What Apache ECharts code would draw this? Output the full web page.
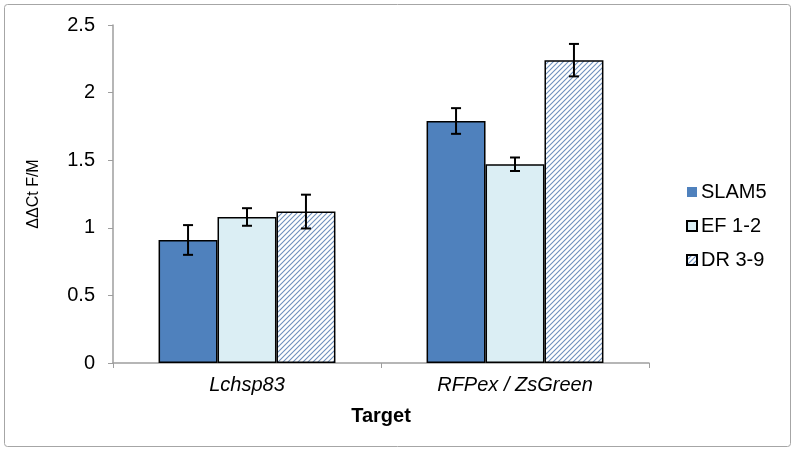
<!DOCTYPE html>
<html><head><meta charset="utf-8">
<script src="https://cdn.jsdelivr.net/npm/echarts@6/dist/echarts.min.js"></script>
<style>html,body{margin:0;padding:0;background:#fff}#c{width:795px;height:451px}</style>
</head><body><div id="c"></div>
<script>
var categories = ['Lchsp83', 'RFPex / ZsGreen'];
var seriesNames = ['SLAM5', 'EF 1-2', 'DR 3-9'];
var slam5 = [0.91, 1.79];
var ef12 = [1.08, 1.47];
var dr39 = [1.12, 2.24];
var slam5Err = [0.11, 0.095];
var ef12Err = [0.065, 0.05];
var dr39Err = [0.125, 0.12];
var yTicks = [0, 0.5, 1, 1.5, 2, 2.5];

function hatch() {
  var s = 5;
  var c = document.createElement('canvas');
  c.width = s; c.height = s;
  var g = c.getContext('2d');
  g.fillStyle = '#ffffff'; g.fillRect(0, 0, s, s);
  g.strokeStyle = '#6f90bd'; g.lineWidth = 1.1;
  g.beginPath();
  g.moveTo(0, s); g.lineTo(s, 0);
  g.moveTo(-1, 1); g.lineTo(1, -1);
  g.moveTo(s - 1, s + 1); g.lineTo(s + 1, s - 1);
  g.stroke();
  return c;
}

var values = [slam5, ef12, dr39];
var errs = [slam5Err, ef12Err, dr39Err];
var fills = ['#4f81bd', '#dbeef4', {image: hatch(), repeat: 'repeat'}];
var catGap = 0.34;
var FONT = 'Liberation Sans, Arial, sans-serif';

var series = [];
values.forEach(function (v, i) {
  series.push({
    name: seriesNames[i], type: 'bar', data: v,
    barGap: '0%', barCategoryGap: '34%',
    itemStyle: {color: fills[i], borderColor: '#000', borderWidth: 1.5},
    emphasis: {disabled: true}
  });
});
values.forEach(function (v, i) {
  var d = v.map(function (val, k) { return [k, val, errs[i][k]]; });
  series.push({
    type: 'custom', silent: true, z: 10,
    data: d,
    encode: {x: 0, y: 1},
    renderItem: function (params, api) {
      var k = api.value(0), val = api.value(1), e = api.value(2);
      var band = api.size([1, 0])[0];
      var bw = band * (1 - catGap) / 3;
      var c = api.coord([k, val]);
      var x = c[0] + (i - 1) * bw;
      var top = api.coord([k, val + e])[1];
      var bot = api.coord([k, val - e])[1];
      var st = {stroke: '#000', lineWidth: 2};
      return {type: 'group', children: [
        {type: 'line', shape: {x1: x, y1: top, x2: x, y2: bot}, style: st},
        {type: 'line', shape: {x1: x - 5, y1: top, x2: x + 5, y2: top}, style: st},
        {type: 'line', shape: {x1: x - 5, y1: bot, x2: x + 5, y2: bot}, style: st}
      ]};
    }
  });
});

var chart = echarts.init(document.getElementById('c'), null, {renderer: 'canvas'});
chart.setOption({
  animation: false,
  backgroundColor: '#fff',
  textStyle: {fontFamily: FONT},
  graphic: [{type: 'rect', shape: {x: 4.5, y: 4.5, width: 786, height: 442, r: 3},
    style: {fill: 'none', stroke: '#a6a6a6', lineWidth: 1}, silent: true}],
  grid: {left: 113, right: 146, top: 25, bottom: 88},
  legend: {
    orient: 'vertical', left: 686, top: 182, padding: 0,
    itemWidth: 10, itemHeight: 10, itemGap: 14, icon: 'rect',
    data: [
      {name: seriesNames[0], itemStyle: {borderWidth: 0}},
      {name: seriesNames[1]},
      {name: seriesNames[2]}
    ],
    textStyle: {fontSize: 20, color: '#000', fontFamily: FONT, padding: [0, 0, 0, -1]}
  },
  xAxis: {
    type: 'category', data: categories,
    axisLine: {lineStyle: {color: '#9e9e9e', width: 1.5}},
    axisTick: {show: true, length: 5, lineStyle: {color: '#9e9e9e'}},
    axisLabel: {fontSize: 20, fontStyle: 'italic', color: '#000', margin: 12},
    name: 'Target', nameLocation: 'middle', nameGap: 43,
    nameTextStyle: {fontSize: 20, fontWeight: 'bold', color: '#000'}
  },
  yAxis: {
    type: 'value', min: 0, max: 2.5, interval: 0.5,
    axisLine: {show: true, lineStyle: {color: '#9e9e9e', width: 1.5}},
    axisTick: {show: true, length: 5, lineStyle: {color: '#9e9e9e'}},
    splitLine: {show: false},
    axisLabel: {fontSize: 20, color: '#000', margin: 18,
      formatter: function (v) { return yTicks.indexOf(v) >= 0 ? String(v) : ''; }},
    name: 'ΔΔCt F/M', nameLocation: 'middle', nameGap: 71, nameRotate: 90,
    nameTextStyle: {fontSize: 16, color: '#000'}
  },
  series: series
});
</script></body></html>
